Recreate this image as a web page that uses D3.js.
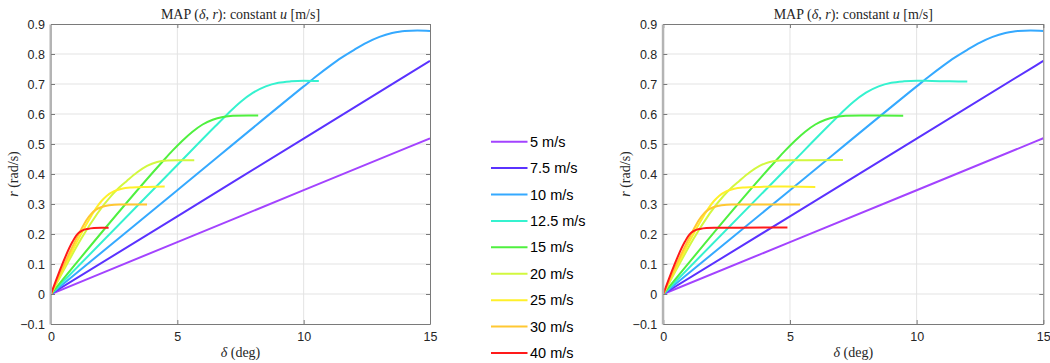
<!DOCTYPE html>
<html>
<head>
<meta charset="utf-8">
<script src="https://cdn.jsdelivr.net/npm/d3@7"></script>
<style>
  html, body { margin: 0; padding: 0; background: #fff; }
  svg { display: block; }
</style>
</head>
<body>
<svg id="chart" width="1050" height="363"></svg>
<script>
// Speed labels and line colours
const speeds = ["5 m/s", "7.5 m/s", "10 m/s", "12.5 m/s", "15 m/s", "20 m/s", "25 m/s", "30 m/s", "40 m/s"];
const colors = ["#a343ff", "#5a32ff", "#35a9ff", "#35f2cf", "#4ff03f", "#d2f83f", "#fff02a", "#ffc832", "#ff1a1a"];

// Yaw rate r (rad/s) versus steering angle delta (deg), [delta, r]
const u5   = [[0, 0], [5, 0.173], [10, 0.346], [15, 0.519]];
const u7_5 = [[0, 0], [5, 0.259], [10, 0.518], [15, 0.777]];
const u10  = [[0, 0], [5, 0.346], [10, 0.692], [10.5, 0.726], [11, 0.758], [11.5, 0.788], [12, 0.814],
              [12.5, 0.838], [13, 0.857], [13.5, 0.870], [14, 0.877], [14.5, 0.878], [15, 0.877]];
const u12_5 = [[0, 0], [5, 0.43], [6.5, 0.559], [7, 0.601], [7.5, 0.640], [8, 0.671], [8.5, 0.692],
               [9, 0.704], [9.5, 0.709], [10, 0.711], [10.6, 0.710], [11.3, 0.709], [12, 0.708]];
const u15  = [[0, 0], [4.4, 0.440], [4.8, 0.477], [5.2, 0.511], [5.6, 0.541], [6, 0.565], [6.4, 0.581],
              [6.8, 0.590], [7.2, 0.594], [7.8, 0.595], [8.2, 0.595], [9.47, 0.594]];
const u20  = [[0, 0], [2.4, 0.329], [2.7, 0.355], [3, 0.377], [3.4, 0.405], [3.8, 0.427], [4.2, 0.440],
              [4.6, 0.445], [5, 0.446], [5.67, 0.446], [7.09, 0.447]];
const u25  = [[0, 0], [1.6, 0.261], [1.8, 0.288], [2, 0.310], [2.2, 0.327], [2.5, 0.343], [2.8, 0.351],
              [3.2, 0.355], [3.8, 0.357], [4.5, 0.358], [6, 0.357]];
const u30  = [[0, 0], [1.2, 0.216], [1.4, 0.246], [1.6, 0.268], [1.8, 0.282], [2, 0.290], [2.3, 0.296],
              [2.7, 0.298], [3.8, 0.298], [5.4, 0.298]];
const u40  = [[0, 0], [0.85, 0.174], [1, 0.195], [1.1, 0.204], [1.25, 0.212], [1.45, 0.217], [1.7, 0.220],
              [2, 0.221], [2.28, 0.221], [3, 0.221], [4.9, 0.222]];
const curves = [u5, u7_5, u10, u12_5, u15, u20, u25, u30, u40];

// Last steering angle shown for each speed in each panel
const endLeft  = [15, 15, 15, 10.6, 8.2, 5.67, 4.5, 3.8, 2.28];
const endRight = [15, 15, 15, 12, 9.47, 7.09, 6, 5.4, 4.9];

// Axis ticks
const xTicks = [0, 5, 10, 15];
const yTicks = [-0.1, 0, 0.1, 0.2, 0.3, 0.4, 0.5, 0.6, 0.7, 0.8, 0.9];

const svg = d3.select("#chart");
const sans = "'Liberation Sans', Arial, sans-serif";
const serif = "'Liberation Serif', 'Times New Roman', serif";

function drawPanel(id, left, right, ends) {
  const top = 24, bottom = 324;
  const x = d3.scaleLinear().domain([0, 15]).range([left, right]);
  const y = d3.scaleLinear().domain([-0.1, 0.9]).range([bottom, top]);
  const g = svg.append("g");

  // grid
  g.append("g").selectAll("line").data(xTicks.slice(1, -1)).join("line")
    .attr("x1", d => x(d)).attr("x2", d => x(d)).attr("y1", top).attr("y2", bottom)
    .attr("stroke", "#e3e3e3").attr("stroke-width", 1);
  g.append("g").selectAll("line").data(yTicks.slice(1, -1)).join("line")
    .attr("y1", d => y(d)).attr("y2", d => y(d)).attr("x1", left).attr("x2", right)
    .attr("stroke", "#e3e3e3").attr("stroke-width", 1);

  // curves
  g.append("clipPath").attr("id", "clip" + id).append("rect")
    .attr("x", left).attr("y", top).attr("width", right - left).attr("height", bottom - top);
  const line = d3.line().x(d => x(d[0])).y(d => y(d[1])).curve(d3.curveMonotoneX);
  g.append("g").attr("clip-path", `url(#clip${id})`)
    .selectAll("path").data(curves).join("path")
    .attr("d", (c, i) => line(c.filter(p => p[0] <= ends[i] + 1e-9)))
    .attr("fill", "none")
    .attr("stroke", (c, i) => colors[i])
    .attr("stroke-width", 2)
    .attr("stroke-linejoin", "round");

  // axes with inward ticks on all four sides
  const axisColor = "#7a7a7a";
  const xb = g.append("g").attr("transform", `translate(0,${bottom})`)
    .call(d3.axisBottom(x).tickValues(xTicks).tickSizeInner(-4).tickSizeOuter(0).tickPadding(8).tickFormat(d3.format("d")));
  const xt = g.append("g").attr("transform", `translate(0,${top})`)
    .call(d3.axisTop(x).tickValues(xTicks).tickSizeInner(-4).tickSizeOuter(0).tickFormat(""));
  const yr = g.append("g").attr("transform", `translate(${right},0)`)
    .call(d3.axisRight(y).tickValues(yTicks).tickSizeInner(-4).tickSizeOuter(0).tickFormat(""));
  const yl = g.append("g").attr("transform", `translate(${left},0)`)
    .call(d3.axisLeft(y).tickValues(yTicks).tickSizeInner(-4).tickSizeOuter(0).tickPadding(6)
      .tickFormat(d => d === 0 ? "0" : d3.format(".1f")(d)));
  [xb, xt, yl, yr].forEach(a => {
    a.select(".domain").attr("stroke", axisColor);
    a.selectAll(".tick line").attr("stroke", axisColor);
    a.selectAll("text").attr("fill", "#262626").style("font-family", sans).style("font-size", "12.5px");
  });
  yl.select(".domain").attr("stroke", "#b4b4b4").attr("stroke-width", 2.5)
    .attr("transform", "translate(-0.75,0)");

  // title
  const cx = (left + right) / 2;
  const t = g.append("text").attr("x", cx).attr("y", 19).attr("text-anchor", "middle")
    .style("font-family", serif).style("font-size", "14px").attr("fill", "#262626");
  t.append("tspan").text("MAP (");
  t.append("tspan").attr("font-style", "italic").text("δ");
  t.append("tspan").text(", ");
  t.append("tspan").attr("font-style", "italic").text("r");
  t.append("tspan").text("): constant ");
  t.append("tspan").attr("font-style", "italic").text("u");
  t.append("tspan").text(" [m/s]");

  // x label
  const xlab = g.append("text").attr("x", cx).attr("y", 357).attr("text-anchor", "middle")
    .style("font-family", serif).style("font-size", "14px").attr("fill", "#262626");
  xlab.append("tspan").attr("font-style", "italic").text("δ");
  xlab.append("tspan").text(" (deg)");

  // y label
  const ylab = g.append("text")
    .attr("transform", `translate(${left - 33},${(top + bottom) / 2}) rotate(-90)`)
    .attr("text-anchor", "middle")
    .style("font-family", serif).style("font-size", "14px").attr("fill", "#262626");
  ylab.append("tspan").attr("font-style", "italic").text("r");
  ylab.append("tspan").text(" (rad/s)");
}

drawPanel("L", 51, 430, endLeft);
drawPanel("R", 663.3, 1043.3, endRight);

// legend between panels
const legend = svg.append("g");
const rowY = d3.scalePoint().domain(speeds).range([141.7, 353]);
const rows = legend.selectAll("g").data(speeds).join("g")
  .attr("transform", d => `translate(0,${rowY(d)})`);
rows.append("line").attr("x1", 491).attr("x2", 527.5).attr("y1", 0).attr("y2", 0)
  .attr("stroke", (d, i) => colors[i]).attr("stroke-width", 2);
rows.append("text").attr("x", 530).attr("y", 0).attr("dy", "0.35em")
  .style("font-family", sans).style("font-size", "14.5px").attr("fill", "#000")
  .text(d => d);
</script>
</body>
</html>
